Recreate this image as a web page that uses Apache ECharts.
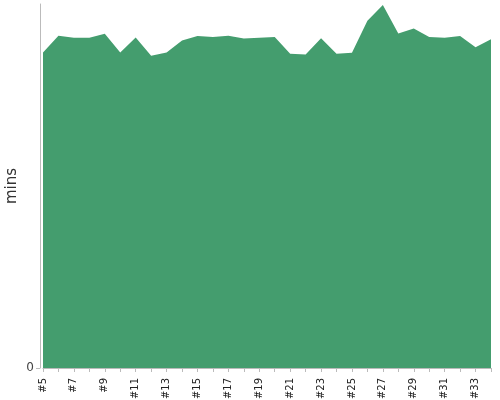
<!DOCTYPE html>
<html><head><meta charset="utf-8">
<script src="https://cdn.jsdelivr.net/npm/echarts@6/dist/echarts.min.js"></script>
<style>html,body{margin:0;padding:0;background:#fff}#c{width:500px;height:400px}</style>
</head><body><div id="c"></div>
<script>
const categories = ['#5','#6','#7','#8','#9','#10','#11','#12','#13','#14','#15','#16','#17','#18','#19','#20','#21','#22','#23','#24','#25','#26','#27','#28','#29','#30','#31','#32','#33','#34'];
const values = [86.7,91.3,90.7,90.7,91.8,86.7,90.8,85.8,86.7,90.0,91.2,90.9,91.3,90.5,90.7,90.9,86.3,86.1,90.6,86.3,86.6,95.4,99.7,91.9,93.3,90.9,90.7,91.2,88.1,90.3];
const yTicks = [0];
const chart = echarts.init(document.getElementById('c'));
chart.setOption({
  animation: false,
  textStyle: {fontFamily: 'DejaVu Sans'},
  grid: {left: 43, right: 9, top: 4, bottom: 32, containLabel: false, outerBoundsMode: 'none'},
  xAxis: {
    type: 'category', data: categories, boundaryGap: false, offset: 4,
    axisLine: {lineStyle: {color: '#bbb'}},
    axisTick: {interval: 0, length: 4, lineStyle: {color: '#bbb'}},
    axisLabel: {interval: 1, rotate: 90, fontSize: 10, color: '#222', margin: 6}
  },
  yAxis: {
    type: 'value', min: 0, max: 100, interval: 100, offset: 3,
    name: 'mins', nameLocation: 'middle', nameGap: 20, nameMoveOverlap: false,
    nameTextStyle: {fontSize: 15, color: '#333', fontFamily: 'DejaVu Sans'},
    axisLine: {show: true, lineStyle: {color: '#bbb'}},
    axisTick: {show: true, length: 4, lineStyle: {color: '#bbb'}},
    splitLine: {show: false},
    axisLabel: {fontSize: 12, color: '#444', showMaxLabel: false, margin: 6,
      formatter: v => yTicks.includes(v) ? String(v) : ''}
  },
  series: [{
    type: 'line', data: values, showSymbol: false, symbol: 'none',
    lineStyle: {width: 0, color: '#449d6e'},
    areaStyle: {color: '#449d6e', opacity: 1}
  }]
});
</script></body></html>
